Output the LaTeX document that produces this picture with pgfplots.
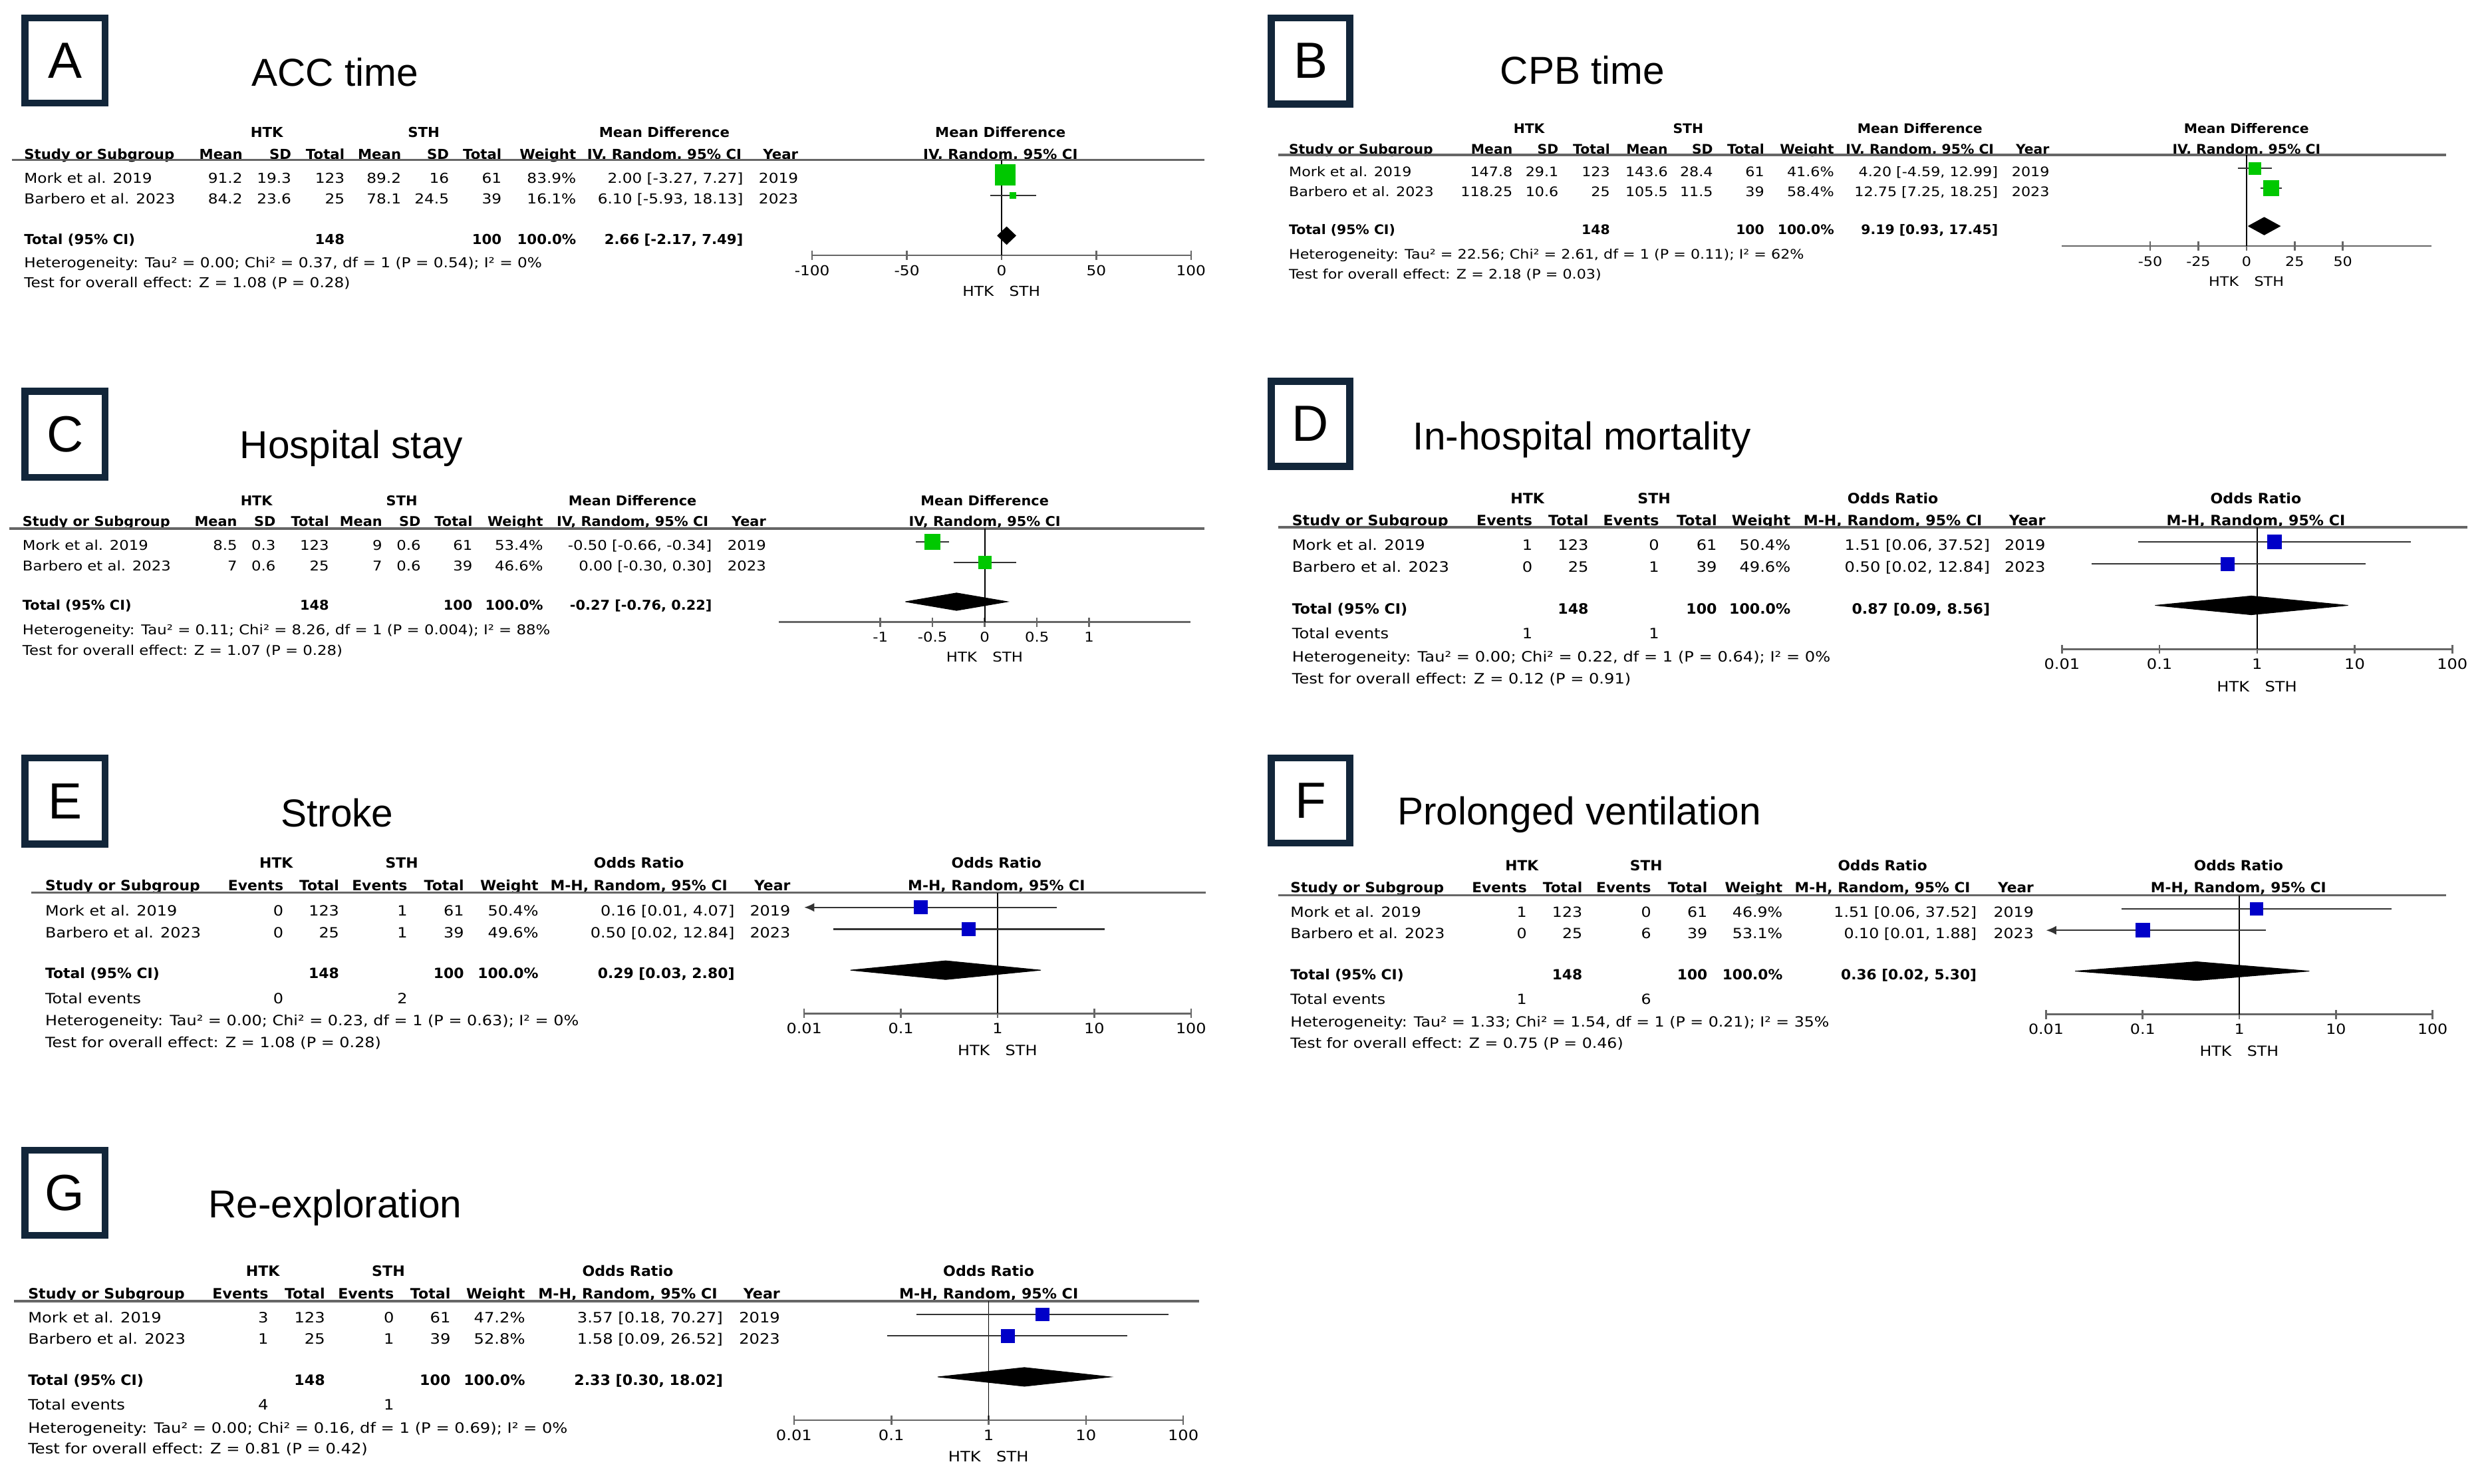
\documentclass[border=0pt]{standalone}
\usepackage{fontspec}
\usepackage{pgfplots}
\pgfplotsset{compat=1.18}
\usetikzlibrary{arrows.meta}
\setmainfont{Liberation Sans}
\newfontfamily\tf[FakeStretch=1.125,BoldFeatures={FakeStretch=1.03}]{DejaVu Sans}
\newfontfamily\hf{Liberation Sans}
\definecolor{navy}{HTML}{12263A}
\definecolor{rmgreen}{RGB}{0,200,0}
\definecolor{rmblue}{RGB}{0,0,200}
\def\fsz{4.3pt}
\newcommand\TF{\tf\fontsize{\fsz}{\fsz}\selectfont}
\newcommand\tR[3]{\node[anchor=mid east,inner sep=0pt,font=\TF] at (#1,#2) {#3};}
\newcommand\tL[3]{\node[anchor=mid west,inner sep=0pt,font=\TF] at (#1,#2) {#3};}
\newcommand\tC[3]{\node[anchor=mid,inner sep=0pt,font=\TF] at (#1,#2) {#3};}
\newcommand\bR[3]{\node[anchor=mid east,inner sep=0pt,font=\TF\bfseries] at (#1,#2) {#3};}
\newcommand\bL[3]{\node[anchor=mid west,inner sep=0pt,font=\TF\bfseries] at (#1,#2) {#3};}
\newcommand\bC[3]{\node[anchor=mid,inner sep=0pt,font=\TF\bfseries] at (#1,#2) {#3};}
\newcommand\pbox[5]{\draw[navy,line width=2.2pt] ({#1+2.2},{#2+2.2}) rectangle ({#3-2.2},{#4-2.2});
  \node[font=\hf\fontsize{16pt}{16pt}\selectfont,inner sep=0pt] at ({(#1+#3)/2},{(#2+#4)/2}) {#5};}
\newcommand\ptitle[3]{\node[anchor=base west,inner sep=0pt,font=\hf\fontsize{12.25pt}{12.25pt}\selectfont] at (#1,#2) {#3};}
\newcommand\hln[3]{\draw[black!60,line width=0.75pt] (#1,#3) -- (#2,#3);}
\newcommand\chead[3]{\bC{\xH}{#1}{HTK}\bC{\xT}{#1}{STH}\bC{\xCIc}{#1}{#3}\bC{\xP}{#1}{#3}
  \bL{\xS}{#2}{Study or Subgroup}\bR{\xa}{#2}{Mean}\bR{\xb}{#2}{SD}\bR{\xc}{#2}{Total}\bR{\xd}{#2}{Mean}\bR{\xe}{#2}{SD}\bR{\xf}{#2}{Total}\bR{\xW}{#2}{Weight}\bC{\xCIc}{#2}{IV, Random, 95\% CI}\bR{\xY}{#2}{Year}\bC{\xP}{#2}{IV, Random, 95\% CI}}
\newcommand\dhead[2]{\bC{\xH}{#1}{HTK}\bC{\xT}{#1}{STH}\bC{\xCIc}{#1}{Odds Ratio}\bC{\xP}{#1}{Odds Ratio}
  \bL{\xS}{#2}{Study or Subgroup}\bR{\xa}{#2}{Events}\bR{\xb}{#2}{Total}\bR{\xc}{#2}{Events}\bR{\xd}{#2}{Total}\bR{\xW}{#2}{Weight}\bC{\xCIc}{#2}{M-H, Random, 95\% CI}\bR{\xY}{#2}{Year}\bC{\xP}{#2}{M-H, Random, 95\% CI}}
\newcommand\crow[9]{\tL{\xS}{#1}{#2}\tR{\xa}{#1}{#3}\tR{\xb}{#1}{#4}\tR{\xc}{#1}{#5}\tR{\xd}{#1}{#6}\tR{\xe}{#1}{#7}\tR{\xf}{#1}{#8}\tR{\xW}{#1}{#9}}
\newcommand\cyr[3]{\tR{\xCI}{#1}{#2}\tR{\xY}{#1}{#3}}
\newcommand\drow[9]{\tL{\xS}{#1}{#2}\tR{\xa}{#1}{#3}\tR{\xb}{#1}{#4}\tR{\xc}{#1}{#5}\tR{\xd}{#1}{#6}\tR{\xW}{#1}{#7}\tR{\xCI}{#1}{#8}\tR{\xY}{#1}{#9}}
\newcommand\ctot[2]{\bL{\xS}{#1}{Total (95\% CI)}\bR{\xc}{#1}{148}\bR{\xf}{#1}{100}\bR{\xW}{#1}{100.0\%}\bR{\xCI}{#1}{#2}}
\newcommand\dtot[2]{\bL{\xS}{#1}{Total (95\% CI)}\bR{\xb}{#1}{148}\bR{\xd}{#1}{100}\bR{\xW}{#1}{100.0\%}\bR{\xCI}{#1}{#2}}
\newcommand\tev[3]{\tL{\xS}{#1}{Total events}\tR{\xa}{#1}{#2}\tR{\xc}{#1}{#3}}
\newcommand\hs[2]{\node[anchor=mid east,inner sep=0pt,font=\TF] at ({#1-4.5},#2) {HTK};
  \node[anchor=mid west,inner sep=0pt,font=\TF] at ({#1+4.5},#2) {STH};}
\pgfplotsset{
  fp/.style={scale only axis, anchor=south west, clip=false, axis x line*=bottom, axis y line=none,
    ytick=\empty, tick align=center, major tick length=2.8pt, minor tick num=0, xminorticks=false,
    axis line style={line width=0.6pt, black!60}, tick style={line width=0.55pt, black!60},
    xticklabel style={font=\TF, inner sep=0pt, anchor=mid, yshift=-2.25pt}},
  nul/.style={black, line width=0.35pt},
  ci/.style={black!80, line width=0.45pt},
  cia/.style={black!80, line width=0.45pt, arrows={Latex[length=3.2pt,width=2.8pt]-}},
  sqg/.style={only marks, mark=square*, rmgreen, mark options={line width=0pt}},
  sqb/.style={only marks, mark=square*, rmblue, mark options={line width=0pt}},
  dia/.style={fill=black, draw=black, line width=0.2pt},
  orax/.style={xmin=0.01, xmax=100, xtick={0.01,0.1,1,10,100}, xticklabels={0.01,0.1,1,10,100}}
}
\begin{document}
\begin{tikzpicture}
\path[use as bounding box] (0,0) rectangle (784pt,-467pt);
\begin{scope}[x=0.5pt,y=-0.5pt]
% ================= A =================
\def\fsz{4.32pt}
\def\xS{14.8}\def\xa{153}\def\xb{183.7}\def\xc{217.2}\def\xd{252.8}\def\xe{282.9}\def\xf{316}\def\xW{362.9}\def\xCI{468}\def\xCIc{418}\def\xY{502.6}\def\xH{167.9}\def\xT{266.6}\def\xP{629.5}
\pbox{13.5}{9.1}{68.3}{67}{A}
\ptitle{158}{54.1}{ACC time}
\chead{81}{94.8}{Mean Difference}
\hln{7.4}{757.8}{100.7}
\crow{110}{Mork et al. 2019}{91.2}{19.3}{123}{89.2}{16}{61}{83.9\%}\cyr{110}{2.00 [-3.27, 7.27]}{2019}
\crow{123}{Barbero et al. 2023}{84.2}{23.6}{25}{78.1}{24.5}{39}{16.1\%}\cyr{123}{6.10 [-5.93, 18.13]}{2023}
\ctot{148.3}{2.66 [-2.17, 7.49]}
\tL{\xS}{163.2}{Heterogeneity: Tau² = 0.00; Chi² = 0.37, df = 1 (P = 0.54); I² = 0\%}
\tL{\xS}{175.5}{Test for overall effect: Z = 1.08 (P = 0.28)}
\hs{630.2}{181.3}
\coordinate (oA) at (511,160.7);
% ================= B =================
\def\fsz{4.14pt}
\def\xS{810.6}\def\xa{952.1}\def\xb{981}\def\xc{1013.4}\def\xd{1049.8}\def\xe{1078.2}\def\xf{1110.5}\def\xW{1154.4}\def\xCI{1257.5}\def\xCIc{1208}\def\xY{1289.9}\def\xH{962.1}\def\xT{1062.2}\def\xP{1413.5}
\pbox{797.7}{9}{851.5}{67.6}{B}
\ptitle{943.6}{53}{CPB time}
\chead{78.8}{91.4}{Mean Difference}
\hln{804.1}{1539}{97.4}
\crow{106}{Mork et al. 2019}{147.8}{29.1}{123}{143.6}{28.4}{61}{41.6\%}\cyr{106}{4.20 [-4.59, 12.99]}{2019}
\crow{118.5}{Barbero et al. 2023}{118.25}{10.6}{25}{105.5}{11.5}{39}{58.4\%}\cyr{118.5}{12.75 [7.25, 18.25]}{2023}
\ctot{142.3}{9.19 [0.93, 17.45]}
\tL{\xS}{157.6}{Heterogeneity: Tau² = 22.56; Chi² = 2.61, df = 1 (P = 0.11); I² = 62\%}
\tL{\xS}{170.2}{Test for overall effect: Z = 2.18 (P = 0.03)}
\hs{1413.5}{175}
\coordinate (oB) at (1297.4,154.8);
% ================= C =================
\def\fsz{4.24pt}
\def\xS{13.8}\def\xa{149.6}\def\xb{173.8}\def\xc{207.4}\def\xd{240.9}\def\xe{265.1}\def\xf{297.7}\def\xW{342.1}\def\xCI{448.3}\def\xCIc{398}\def\xY{482.4}\def\xH{161.4}\def\xT{252.8}\def\xP{619.6}
\pbox{13.5}{244}{68.3}{302.6}{C}
\ptitle{150.6}{288.7}{Hospital stay}
\chead{313.1}{326.1}{Mean Difference}
\hln{5.9}{757.8}{332.6}
\crow{341}{Mork et al. 2019}{8.5}{0.3}{123}{9}{0.6}{61}{53.4\%}\cyr{341}{-0.50 [-0.66, -0.34]}{2019}
\crow{354}{Barbero et al. 2023}{7}{0.6}{25}{7}{0.6}{39}{46.6\%}\cyr{354}{0.00 [-0.30, 0.30]}{2023}
\ctot{378.7}{-0.27 [-0.76, 0.22]}
\tL{\xS}{394}{Heterogeneity: Tau² = 0.11; Chi² = 8.26, df = 1 (P = 0.004); I² = 88\%}
\tL{\xS}{407}{Test for overall effect: Z = 1.07 (P = 0.28)}
\hs{619.6}{411.4}
\coordinate (oC) at (490.2,391.6);
% ================= D =================
\def\fsz{4.49pt}
\def\xS{812.6}\def\xa{964.6}\def\xb{999.9}\def\xc{1044.3}\def\xd{1080.7}\def\xW{1127}\def\xCI{1252.5}\def\xCIc{1191}\def\xY{1287.4}\def\xH{961.1}\def\xT{1040.8}\def\xP{1419.4}
\pbox{797.7}{237.8}{851.5}{295.7}{D}
\ptitle{888.8}{283.2}{In-hospital mortality}
\dhead{311.7}{325.7}
\hln{804.1}{1552.5}{331.9}
\drow{341}{Mork et al. 2019}{1}{123}{0}{61}{50.4\%}{1.51 [0.06, 37.52]}{2019}
\drow{355}{Barbero et al. 2023}{0}{25}{1}{39}{49.6\%}{0.50 [0.02, 12.84]}{2023}
\dtot{381}{0.87 [0.09, 8.56]}
\tev{396.8}{1}{1}
\tL{\xS}{411.2}{Heterogeneity: Tau² = 0.00; Chi² = 0.22, df = 1 (P = 0.64); I² = 0\%}
\tL{\xS}{425.1}{Test for overall effect: Z = 0.12 (P = 0.91)}
\hs{1420.2}{430.3}
\coordinate (oD) at (1297.4,408.6);
% ================= E =================
\def\fsz{4.45pt}
\def\xS{28.1}\def\xa{178.7}\def\xb{213.8}\def\xc{256.7}\def\xd{292.3}\def\xW{339.2}\def\xCI{462.6}\def\xCIc{402}\def\xY{497.7}\def\xH{173.8}\def\xT{252.8}\def\xP{627}
\pbox{13.5}{474.9}{68.3}{533.5}{E}
\ptitle{176.3}{520.3}{Stroke}
\dhead{541.1}{555.4}
\hln{19.7}{758.8}{561.8}
\drow{571.1}{Mork et al. 2019}{0}{123}{1}{61}{50.4\%}{0.16 [0.01, 4.07]}{2019}
\drow{584.8}{Barbero et al. 2023}{0}{25}{1}{39}{49.6\%}{0.50 [0.02, 12.84]}{2023}
\dtot{610.6}{0.29 [0.03, 2.80]}
\tev{626.5}{0}{2}
\tL{\xS}{640.2}{Heterogeneity: Tau² = 0.00; Chi² = 0.23, df = 1 (P = 0.63); I² = 0\%}
\tL{\xS}{653.8}{Test for overall effect: Z = 1.08 (P = 0.28)}
\hs{627.7}{659}
\coordinate (oE) at (506,637.8);
% ================= F =================
\def\fsz{4.41pt}
\def\xS{811.6}\def\xa{961.1}\def\xb{996}\def\xc{1039.3}\def\xd{1074.7}\def\xW{1122}\def\xCI{1244.1}\def\xCIc{1184.5}\def\xY{1280}\def\xH{957.6}\def\xT{1035.8}\def\xP{1408.5}
\pbox{797.7}{474.9}{851.5}{532.8}{F}
\ptitle{878.9}{518.9}{Prolonged ventilation}
\dhead{542.5}{556.5}
\hln{804.1}{1539}{563.5}
\drow{572.1}{Mork et al. 2019}{1}{123}{0}{61}{46.9\%}{1.51 [0.06, 37.52]}{2019}
\drow{585.5}{Barbero et al. 2023}{0}{25}{6}{39}{53.1\%}{0.10 [0.01, 1.88]}{2023}
\dtot{611.2}{0.36 [0.02, 5.30]}
\tev{626.9}{1}{6}
\tL{\xS}{640.9}{Heterogeneity: Tau² = 1.33; Chi² = 1.54, df = 1 (P = 0.21); I² = 35\%}
\tL{\xS}{654.4}{Test for overall effect: Z = 0.75 (P = 0.46)}
\hs{1409}{659.4}
\coordinate (oF) at (1287.4,638.5);
% ================= G =================
\def\fsz{4.5pt}
\def\xS{17.3}\def\xa{169.3}\def\xb{204.9}\def\xc{248.3}\def\xd{283.9}\def\xW{330.8}\def\xCI{455.2}\def\xCIc{395}\def\xY{491.2}\def\xH{165.4}\def\xT{244.4}\def\xP{622.1}
\pbox{13.5}{721.8}{68.3}{779.6}{G}
\ptitle{130.8}{766.5}{Re-exploration}
\dhead{798}{812}
\hln{8.9}{754.4}{818.8}
\drow{827.3}{Mork et al. 2019}{3}{123}{0}{61}{47.2\%}{3.57 [0.18, 70.27]}{2019}
\drow{840.8}{Barbero et al. 2023}{1}{25}{1}{39}{52.8\%}{1.58 [0.09, 26.52]}{2023}
\dtot{866.6}{2.33 [0.30, 18.02]}
\tev{882.2}{4}{1}
\tL{\xS}{896.6}{Heterogeneity: Tau² = 0.00; Chi² = 0.16, df = 1 (P = 0.69); I² = 0\%}
\tL{\xS}{909.8}{Test for overall effect: Z = 0.81 (P = 0.42)}
\hs{622.05}{914.7}
\coordinate (oG) at (499.6,893.8);
\end{scope}

% ---------- A plot ----------
\def\fsz{4.32pt}
\begin{axis}[fp, at={(oA)}, width=119.2pt, height=30pt, xmin=-100, xmax=100, ymin=-160.7, ymax=-100.7,
  xtick={-100,-50,0,50,100}, xticklabels={-100,-50,0,50,100}]
\addplot[nul] coordinates {(0,-100.7) (0,-160.7)};
\addplot[ci] coordinates {(-3.27,-110) (7.27,-110)};
\addplot[ci] coordinates {(-5.93,-123) (18.13,-123)};
\addplot[sqg, mark size=3.2pt] coordinates {(2.00,-110)};
\addplot[sqg, mark size=0.95pt] coordinates {(6.10,-123)};
\addplot[dia] coordinates {(-2.17,-148.3) (2.66,-142.8) (7.49,-148.3) (2.66,-153.8) (-2.17,-148.3)};
\end{axis}
% ---------- B plot ----------
\def\fsz{4.14pt}
\begin{axis}[fp, at={(oB)}, width=116.3pt, height=28.7pt, xmin=-95.8, xmax=96.1, ymin=-154.8, ymax=-97.4,
  xtick={-50,-25,0,25,50}, xticklabels={-50,-25,0,25,50}]
\addplot[nul] coordinates {(0,-97.4) (0,-154.8)};
\addplot[ci] coordinates {(-4.59,-106) (12.99,-106)};
\addplot[ci] coordinates {(7.25,-118.5) (18.25,-118.5)};
\addplot[sqg, mark size=1.875pt] coordinates {(4.20,-106)};
\addplot[sqg, mark size=2.375pt] coordinates {(12.75,-118.5)};
\addplot[dia] coordinates {(0.93,-142.3) (9.19,-136.8) (17.45,-142.3) (9.19,-147.8) (0.93,-142.3)};
\end{axis}
% ---------- C plot ----------
\def\fsz{4.24pt}
\begin{axis}[fp, at={(oC)}, width=129.4pt, height=29.5pt, xmin=-1.97, xmax=1.97, ymin=-391.6, ymax=-332.6,
  xtick={-1,-0.5,0,0.5,1}, xticklabels={-1,-0.5,0,0.5,1}]
\addplot[nul] coordinates {(0,-332.6) (0,-391.6)};
\addplot[ci] coordinates {(-0.66,-341) (-0.34,-341)};
\addplot[ci] coordinates {(-0.30,-354) (0.30,-354)};
\addplot[sqg, mark size=2.375pt] coordinates {(-0.50,-341)};
\addplot[sqg, mark size=2.0pt] coordinates {(0.00,-354)};
\addplot[dia] coordinates {(-0.76,-378.7) (-0.27,-373.2) (0.22,-378.7) (-0.27,-384.2) (-0.76,-378.7)};
\end{axis}
% ---------- D plot ----------
\def\fsz{4.49pt}
\begin{axis}[fp, xmode=log, orax, at={(oD)}, width=122.8pt, height=38.35pt, ymin=-408.6, ymax=-331.9]
\addplot[nul] coordinates {(1,-331.9) (1,-408.6)};
\addplot[ci] coordinates {(0.06,-341) (37.52,-341)};
\addplot[ci] coordinates {(0.02,-355) (12.84,-355)};
\addplot[sqb, mark size=2.12pt] coordinates {(1.51,-341)};
\addplot[sqb, mark size=2.1pt] coordinates {(0.50,-355)};
\addplot[dia] coordinates {(0.09,-381) (0.87,-375.1) (8.56,-381) (0.87,-386.9) (0.09,-381)};
\end{axis}
% ---------- E plot ----------
\def\fsz{4.45pt}
\begin{axis}[fp, xmode=log, orax, at={(oE)}, width=121.7pt, height=38pt, ymin=-637.8, ymax=-561.8]
\addplot[nul] coordinates {(1,-561.8) (1,-637.8)};
\addplot[cia] coordinates {(0.01,-571.1) (4.07,-571.1)};
\addplot[ci] coordinates {(0.02,-584.8) (12.84,-584.8)};
\addplot[sqb, mark size=2.1pt] coordinates {(0.16,-571.1)};
\addplot[sqb, mark size=2.1pt] coordinates {(0.50,-584.8)};
\addplot[dia] coordinates {(0.03,-610.6) (0.29,-604.7) (2.80,-610.6) (0.29,-616.5) (0.03,-610.6)};
\end{axis}
% ---------- F plot ----------
\def\fsz{4.41pt}
\begin{axis}[fp, xmode=log, orax, at={(oF)}, width=121.6pt, height=37.5pt, ymin=-638.5, ymax=-563.5]
\addplot[nul] coordinates {(1,-563.5) (1,-638.5)};
\addplot[ci] coordinates {(0.06,-572.1) (37.52,-572.1)};
\addplot[cia] coordinates {(0.01,-585.5) (1.88,-585.5)};
\addplot[sqb, mark size=2.0pt] coordinates {(1.51,-572.1)};
\addplot[sqb, mark size=2.15pt] coordinates {(0.10,-585.5)};
\addplot[dia] coordinates {(0.02,-611.2) (0.36,-605.3) (5.30,-611.2) (0.36,-617.1) (0.02,-611.2)};
\end{axis}
% ---------- G plot ----------
\def\fsz{4.5pt}
\begin{axis}[fp, xmode=log, orax, at={(oG)}, width=122.45pt, height=37.5pt, ymin=-893.8, ymax=-818.8]
\addplot[nul] coordinates {(1,-818.8) (1,-893.8)};
\addplot[ci] coordinates {(0.18,-827.3) (70.27,-827.3)};
\addplot[ci] coordinates {(0.09,-840.8) (26.52,-840.8)};
\addplot[sqb, mark size=2.05pt] coordinates {(3.57,-827.3)};
\addplot[sqb, mark size=2.15pt] coordinates {(1.58,-840.8)};
\addplot[dia] coordinates {(0.30,-866.6) (2.33,-860.7) (18.02,-866.6) (2.33,-872.5) (0.30,-866.6)};
\end{axis}
\end{tikzpicture}
\end{document}
